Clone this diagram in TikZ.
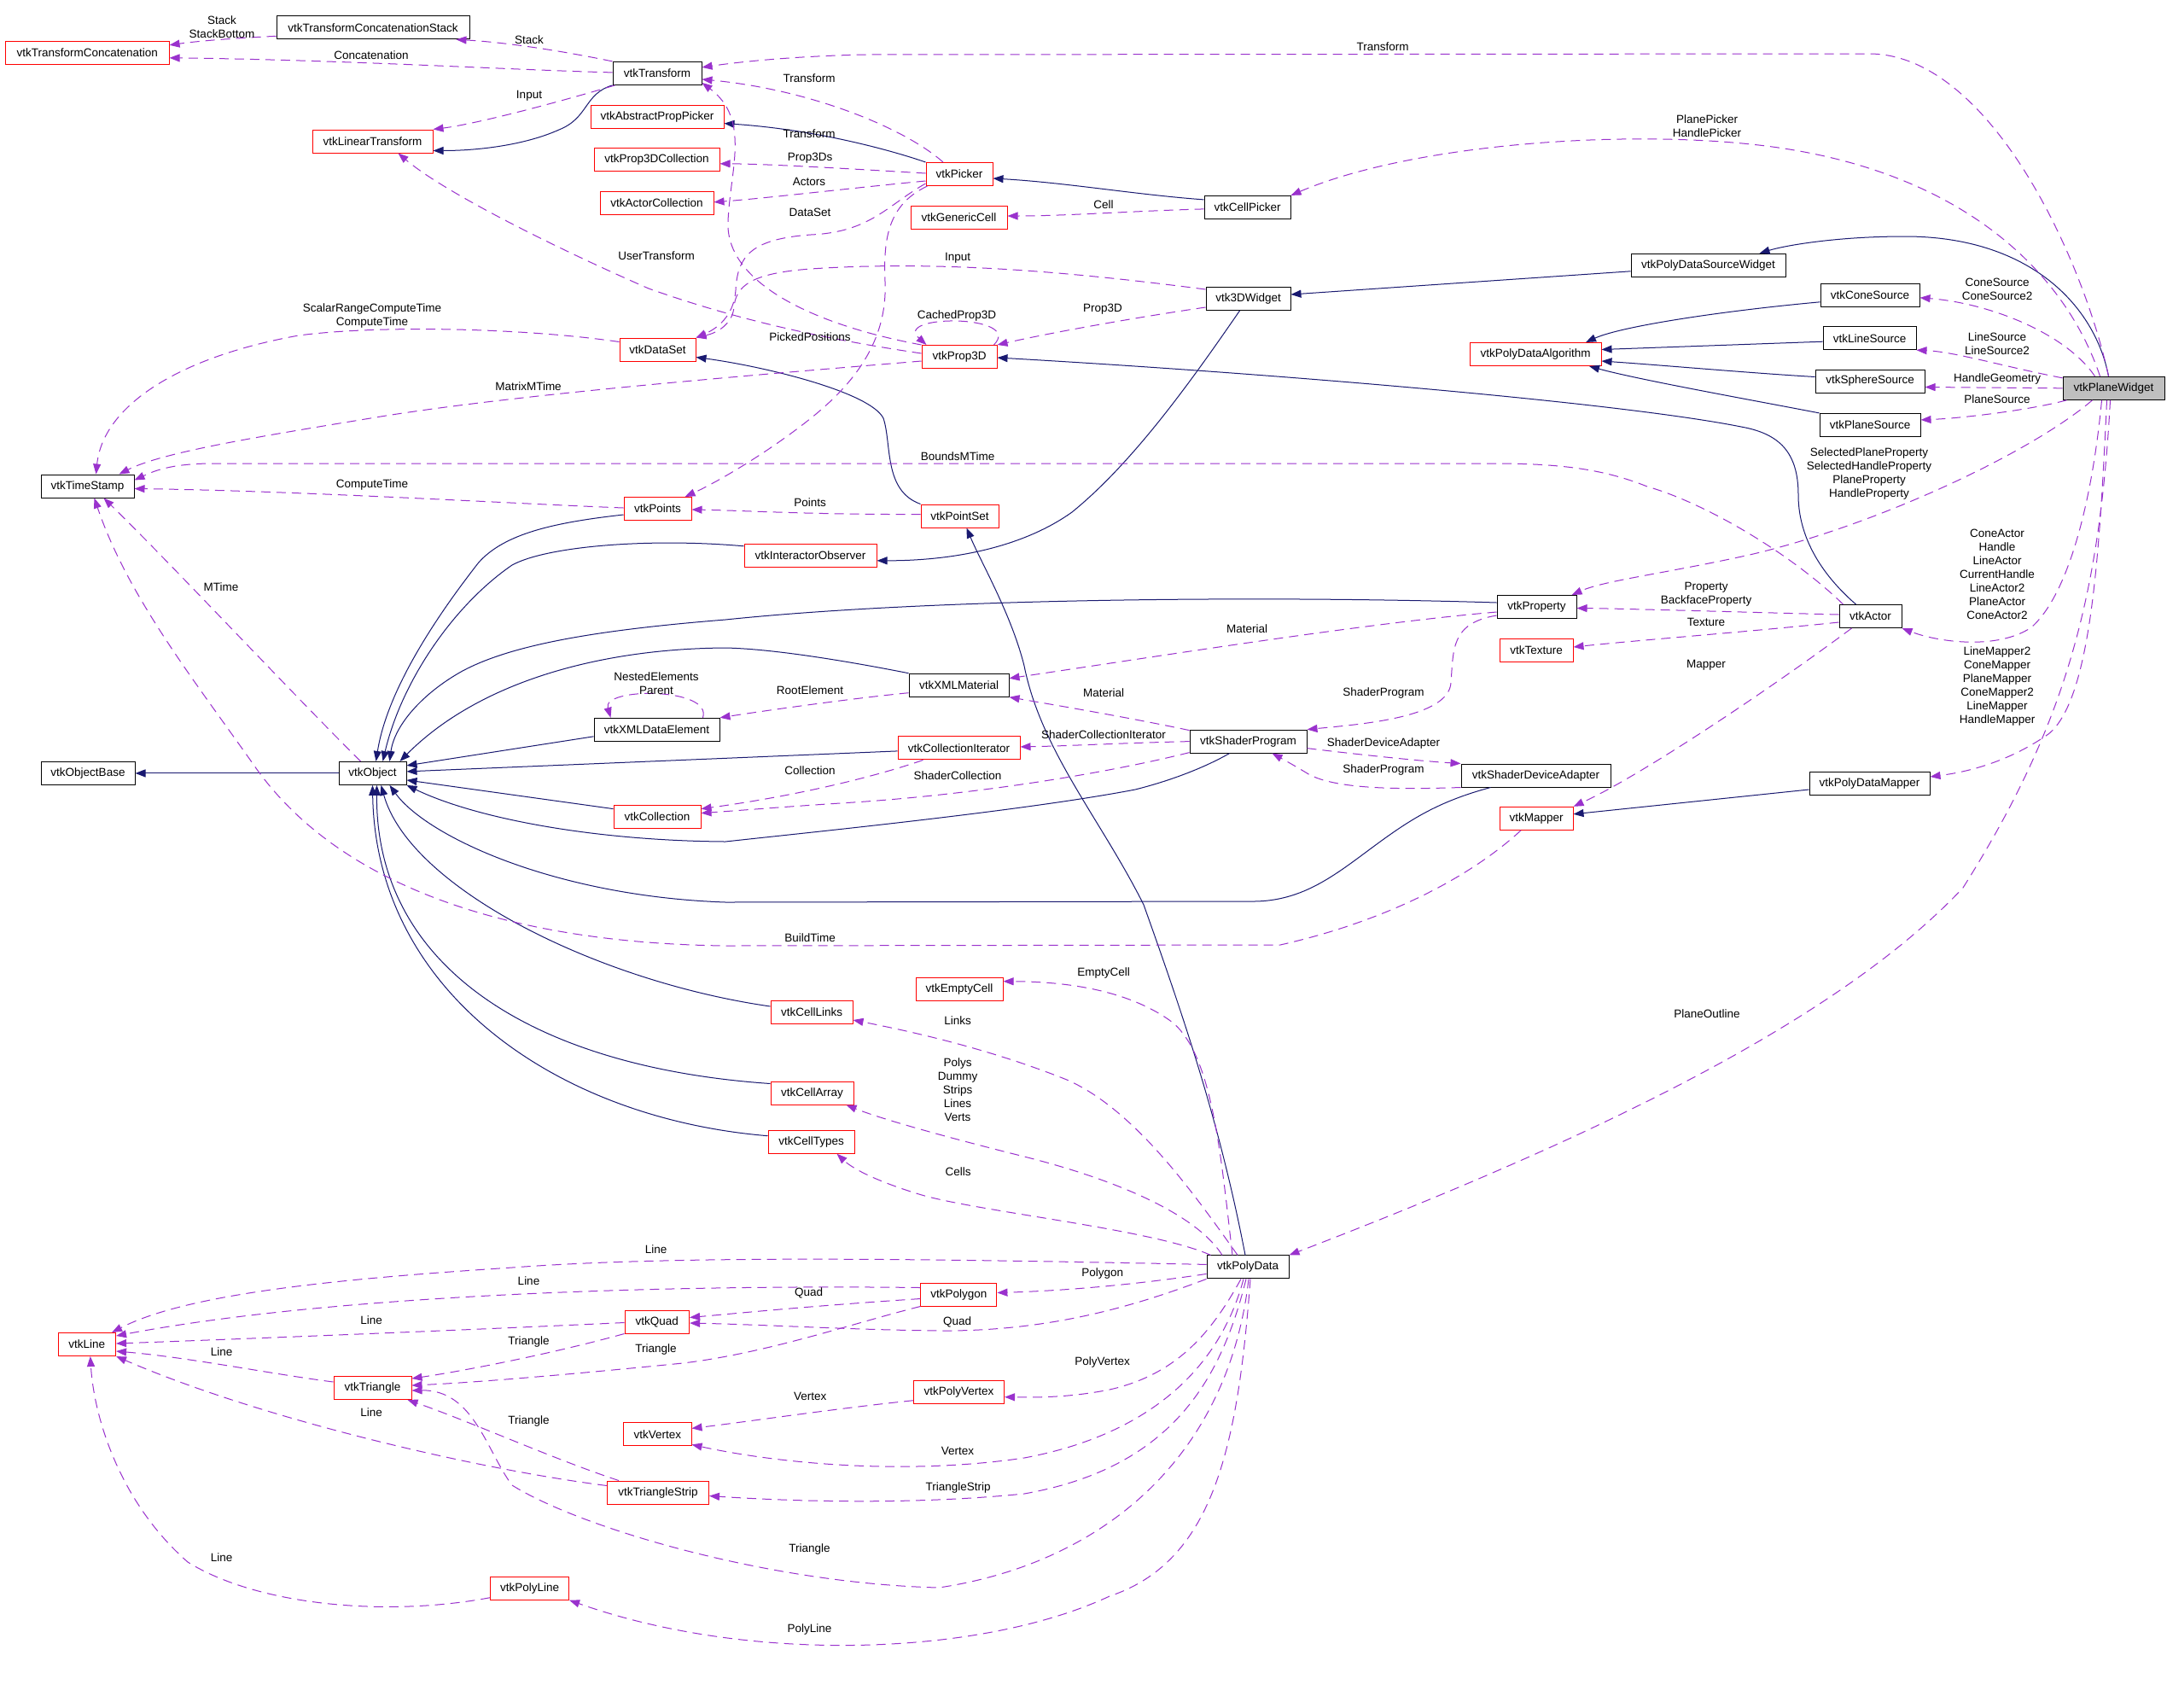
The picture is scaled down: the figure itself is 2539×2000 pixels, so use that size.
\documentclass[tikz,border=0pt]{standalone}
\usepackage{fontspec}
\setmainfont{Liberation Sans}
\usetikzlibrary{arrows.meta,calc}
\definecolor{usec}{HTML}{9A32CD}
\definecolor{inhc}{HTML}{191970}
\definecolor{boxred}{HTML}{FF0000}
\definecolor{pwgray}{HTML}{BFBFBF}
\newcommand{\dfs}{\fontsize{13.5}{16}\selectfont}
\tikzset{
  box/.style={rectangle, inner sep=0pt, minimum height=27pt, font=\dfs, text=black, line width=1pt},
  rbox/.style={box, draw=boxred},
  bbox/.style={box, draw=black},
  gbox/.style={box, draw=black, fill=pwgray},
  inh/.style={draw=inhc, line width=1pt, -{Triangle[length=12pt,width=9pt]}},
  use/.style={draw=usec, line width=1pt, dash pattern=on 11pt off 7pt, -{Triangle[length=12pt,width=9pt]}},
  lbl/.style={font=\dfs, align=center, inner sep=0pt, text=black},
}
\begin{document}
\begin{tikzpicture}[x=1pt,y=-1pt]
\fill[white] (0,0) rectangle (2539,2000);
\useasboundingbox (0,0) rectangle (2539,2000);

% nodes
\node[bbox, minimum width=226pt] (tcs) at (437,32.3) {vtkTransformConcatenationStack};
\node[rbox, minimum width=191.5pt] (tc) at (102.3,61.8) {vtkTransformConcatenation};
\node[bbox, minimum width=104pt] (transform) at (770,85.9) {vtkTransform};
\node[rbox, minimum width=156pt] (app) at (770,136.6) {vtkAbstractPropPicker};
\node[rbox, minimum width=141pt] (lt) at (436.5,165.5) {vtkLinearTransform};
\node[rbox, minimum width=147pt] (p3dc) at (769.5,186.8) {vtkProp3DCollection};
\node[rbox, minimum width=133pt] (actcoll) at (769.5,237.8) {vtkActorCollection};
\node[rbox, minimum width=89pt] (dataset) at (770.5,409.5) {vtkDataSet};
\node[bbox, minimum width=109pt] (timestamp) at (102.5,569.5) {vtkTimeStamp};
\node[rbox, minimum width=79pt] (points) at (770.5,596) {vtkPoints};
\node[rbox, minimum width=78pt] (picker) at (1124,204) {vtkPicker};
\node[rbox, minimum width=113pt] (gencell) at (1123.5,255) {vtkGenericCell};
\node[bbox, minimum width=101pt] (cellpicker) at (1461.5,242.9) {vtkCellPicker};
\node[bbox, minimum width=99pt] (w3d) at (1462.5,350) {vtk3DWidget};
\node[rbox, minimum width=88pt] (prop3d) at (1124,418) {vtkProp3D};
\node[rbox, minimum width=91pt] (pointset) at (1124.5,604.5) {vtkPointSet};
\node[rbox, minimum width=155pt] (iobs) at (949.5,650.8) {vtkInteractorObserver};
\node[bbox, minimum width=181pt] (pdsw) at (2001.5,310.8) {vtkPolyDataSourceWidget};
\node[bbox, minimum width=116pt] (cone) at (2191,345.8) {vtkConeSource};
\node[bbox, minimum width=109pt] (linesrc) at (2190.5,396.2) {vtkLineSource};
\node[bbox, minimum width=128pt] (sphere) at (2191,446.5) {vtkSphereSource};
\node[bbox, minimum width=118pt] (planesrc) at (2191,497.9) {vtkPlaneSource};
\node[rbox, minimum width=154pt] (pda) at (1799,415) {vtkPolyDataAlgorithm};
\node[gbox, minimum width=119pt] (planewidget) at (2476.5,454.8) {vtkPlaneWidget};
\node[bbox, minimum width=110pt] (objbase) at (103,905.9) {vtkObjectBase};
\node[bbox, minimum width=79pt] (object) at (436.5,905.9) {vtkObject};
\node[bbox, minimum width=147pt] (xde) at (769.5,854.8) {vtkXMLDataElement};
\node[rbox, minimum width=102pt] (collection) at (770,956.6) {vtkCollection};
\node[bbox, minimum width=117pt] (xmlmat) at (1123.5,802.7) {vtkXMLMaterial};
\node[rbox, minimum width=143pt] (colliter) at (1123.5,876.4) {vtkCollectionIterator};
\node[bbox, minimum width=137pt] (shaderprog) at (1462.5,868.6) {vtkShaderProgram};
\node[rbox, minimum width=102pt] (emptycell) at (1124,1158.7) {vtkEmptyCell};
\node[rbox, minimum width=96pt] (celllinks) at (951,1186) {vtkCellLinks};
\node[rbox, minimum width=97pt] (cellarray) at (951.5,1280.5) {vtkCellArray};
\node[rbox, minimum width=101pt] (celltypes) at (950.5,1337.7) {vtkCellTypes};
\node[bbox, minimum width=93pt] (property) at (1800.5,711) {vtkProperty};
\node[rbox, minimum width=86pt] (texture) at (1800,762) {vtkTexture};
\node[bbox, minimum width=73pt] (actor) at (2191.5,722) {vtkActor};
\node[bbox, minimum width=175pt] (sda) at (1799.5,908.5) {vtkShaderDeviceAdapter};
\node[rbox, minimum width=86pt] (mapper) at (1800,958.8) {vtkMapper};
\node[bbox, minimum width=141pt] (pdmapper) at (2190.5,918) {vtkPolyDataMapper};
\node[rbox, minimum width=67.5pt] (line) at (101.8,1575) {vtkLine};
\node[rbox, minimum width=75.6pt] (quad) at (769.8,1548.5) {vtkQuad};
\node[rbox, minimum width=91pt] (triangle) at (436.5,1626) {vtkTriangle};
\node[rbox, minimum width=79.4pt] (vertex) at (770.3,1680.4) {vtkVertex};
\node[rbox, minimum width=119pt] (tristrip) at (771,1748.5) {vtkTriangleStrip};
\node[rbox, minimum width=92pt] (polyline) at (620.6,1860.7) {vtkPolyLine};
\node[bbox, minimum width=96pt] (polydata) at (1462,1484.4) {vtkPolyData};
\node[rbox, minimum width=89pt] (polygon) at (1123.4,1516.5) {vtkPolygon};
\node[rbox, minimum width=106pt] (polyvertex) at (1123.5,1630.7) {vtkPolyVertex};

% inheritance
\draw[inh] (transform.south west) .. controls (684,110) and (690,138) .. (655,152) .. controls (615,170) and (560,176.5) .. ($(lt.east)+(0,11)$);
\draw[inh] (picker.north west) .. controls (1050,178) and (960,152) .. ($(app.east)+(0,8)$);
\draw[inh] ($(cellpicker.west)+(0,-9)$) .. controls (1330,228) and (1250,214) .. ($(picker.east)+(0,5)$);
\draw[inh] ($(pdsw.west)+(0,7)$) -- ($(w3d.east)+(0,-5)$);
\draw[inh] ($(planewidget.north)+(-6,0)$) .. controls (2455,360) and (2380,277) .. (2232,277) .. controls (2150,277) and (2090,288) .. ($(pdsw.north)+(60,0)$);
\draw[inh] ($(cone.west)+(0,8)$) .. controls (2020,364) and (1900,382) .. ($(pda.north)+(59,0)$);
\draw[inh] ($(linesrc.west)+(0,4)$) -- ($(pda.east)+(0,-5.5)$);
\draw[inh] ($(sphere.west)+(0,-5)$) .. controls (2050,437) and (1950,428) .. ($(pda.east)+(0,8)$);
\draw[inh] (planesrc.north west) .. controls (2060,470) and (1920,445) .. ($(pda.south)+(63,0)$);
\draw[inh] ($(actor.north)+(-17,0)$) .. controls (2125,665) and (2107,620) .. (2107,580) .. controls (2107,530) and (2085,508) .. (2040,500) .. controls (1900,472) and (1500,438) .. ($(prop3d.east)+(0,1)$);
\draw[inh] ($(w3d.south)+(-10,0)$) .. controls (1400,440) and (1330,540) .. (1256,600) .. controls (1200,640) and (1120,657) .. ($(iobs.east)+(0,6)$);
\draw[inh] (pointset.north west) .. controls (1035,575) and (1045,520) .. (1035,490) .. controls (1020,460) and (900,430) .. ($(dataset.east)+(0,9)$);
\draw[inh] ($(polydata.north)+(-3,0)$) .. controls (1430,1320) and (1390,1200) .. (1340,1060) .. controls (1290,960) and (1220,880) .. (1200,780) .. controls (1185,720) and (1150,660) .. ($(pointset.south)+(8,0)$);
\draw[inh] ($(pdmapper.west)+(0,7)$) -- ($(mapper.east)+(0,-5)$);
\draw[inh] (object.west) -- (objbase.east);
\draw[inh] ($(points.west)+(0,7)$) .. controls (650,612) and (590,625) .. (560,660) .. controls (525,705) and (455,800) .. ($(object.north)+(4,0)$);
\draw[inh] ($(iobs.west)+(0,-11)$) .. controls (760,630) and (640,640) .. (600,662) .. controls (530,710) and (470,800) .. ($(object.north)+(12,0)$);
\draw[inh] ($(property.west)+(0,-5)$) .. controls (1500,698) and (1100,700) .. (850,726) .. controls (700,738) and (600,755) .. (542,786) .. controls (495,812) and (462,850) .. ($(object.north)+(20,0)$);
\draw[inh] (xmlmat.north west) .. controls (980,772) and (900,760) .. (850,759) .. controls (700,760) and (560,800) .. ($(object.north east)+(-8,0)$);
\draw[inh] ($(xde.west)+(0,8)$) -- ($(object.east)+(0,-9)$);
\draw[inh] ($(colliter.west)+(0,3.5)$) -- ($(object.east)+(0,-2)$);
\draw[inh] ($(collection.west)+(0,-9)$) -- ($(object.east)+(0,8)$);
\draw[inh] ($(shaderprog.south)+(-22,0)$) .. controls (1410,900) and (1370,915) .. (1330,925) .. controls (1200,950) and (950,975) .. (850,986) .. controls (700,985) and (560,960) .. (object.south east);
\draw[inh] ($(sda.south)+(-53,0)$) .. controls (1700,935) and (1670,950) .. (1640,970) .. controls (1580,1010) and (1540,1055) .. (1470,1056) -- (850,1057) .. controls (650,1050) and (500,980) .. ($(object.south)+(20,0)$);
\draw[inh] ($(celllinks.west)+(0,-7)$) .. controls (700,1150) and (480,1040) .. ($(object.south)+(10,0)$);
\draw[inh] ($(cellarray.west)+(0,-11)$) .. controls (620,1250) and (440,1130) .. ($(object.south)+(5,0)$);
\draw[inh] ($(celltypes.west)+(0,-7)$) .. controls (650,1310) and (440,1160) .. (object.south);

% usage
\draw[use] ($(planewidget.north)+(-6,0)$) .. controls (2440,300) and (2330,63) .. (2190,63) -- (1012,64) .. controls (930,66) and (870,72) .. ($(transform.east)+(0,-7)$);
\draw[use] ($(planewidget.north)+(-16,0)$) .. controls (2420,320) and (2300,200) .. (2069,171) .. controls (1900,150) and (1650,170) .. (cellpicker.north east);
\draw[use] ($(planewidget.north)+(-22,0)$) .. controls (2420,390) and (2330,355) .. ($(cone.east)+(0,3)$);
\draw[use] ($(planewidget.north west)+(0,2)$) .. controls (2350,430) and (2290,412) .. (linesrc.south east);
\draw[use] (planewidget.west) -- ($(sphere.east)+(0,7)$);
\draw[use] ($(planewidget.south west)+(5,0)$) .. controls (2380,480) and (2300,490) .. ($(planesrc.east)+(0,-6)$);
\draw[use] ($(planewidget.south)+(-25,0)$) .. controls (2380,530) and (2200,615) .. (2050,650) .. controls (1950,672) and (1880,680) .. ($(property.north east)+(-6,0)$);
\draw[use] ($(planewidget.south)+(-14,0)$) .. controls (2450,600) and (2420,700) .. (2380,735) .. controls (2340,762) and (2270,752) .. (actor.south east);
\draw[use] ($(planewidget.south)+(-8,0)$) .. controls (2460,650) and (2450,820) .. (2400,860) .. controls (2350,895) and (2300,905) .. ($(pdmapper.east)+(0,-8)$);
\draw[use] ($(planewidget.south)+(-4,0)$) .. controls (2460,700) and (2420,850) .. (2300,1040) .. controls (2150,1200) and (1850,1340) .. (polydata.north east);
\draw[use] (transform.north west) .. controls (670,62) and (600,50) .. ($(tcs.south east)+(-16,0)$);
\draw[use] ($(transform.west)+(0,-1)$) .. controls (600,82) and (400,70) .. ($(tc.east)+(0,6)$);
\draw[use] ($(transform.south west)+(3,0)$) .. controls (660,118) and (560,145) .. (lt.north east);
\draw[use] ($(tcs.west)+(0,10)$) .. controls (290,44) and (240,47) .. ($(tc.east)+(0,-9)$);
\draw[use] ($(picker.north)+(-19,0)$) .. controls (1060,150) and (950,105) .. ($(transform.east)+(0,7)$);
\draw[use] (prop3d.north west) .. controls (950,380) and (850,330) .. (853,260) .. controls (855,200) and (880,140) .. ($(transform.south east)+(0,-3)$);
\draw[use] ($(prop3d.north east)+(-4,0)$) .. controls (1200,368) and (1045,368) .. ($(prop3d.north west)+(6,0)$);
\draw[use] ($(picker.west)+(0,-1)$) .. controls (1000,198) and (900,192) .. ($(p3dc.east)+(0,5)$);
\draw[use] ($(picker.west)+(0,8)$) .. controls (1000,220) and (900,232) .. ($(actcoll.east)+(0,-1)$);
\draw[use] ($(picker.west)+(0,11)$) .. controls (1040,240) and (1020,272) .. (950,275) .. controls (880,280) and (864,300) .. (862,340) .. controls (860,370) and (840,385) .. (dataset.north east);
\draw[use] ($(w3d.west)+(0,-11)$) .. controls (1250,318) and (1100,305) .. (950,315) .. controls (880,320) and (862,335) .. (860,360) .. controls (858,380) and (840,390) .. (dataset.north east);
\draw[use] ($(w3d.west)+(0,10)$) .. controls (1330,372) and (1230,390) .. (prop3d.north east);
\draw[use] ($(prop3d.west)+(0,-4)$) .. controls (950,395) and (850,370) .. (760,338) .. controls (650,290) and (520,225) .. ($(lt.south)+(30,0)$);
\draw[use] ($(prop3d.west)+(0,5)$) .. controls (900,438) and (600,462) .. (434,490) .. controls (300,512) and (190,530) .. ($(timestamp.north)+(37,0)$);
\draw[use] ($(dataset.west)+(0,-9)$) .. controls (620,385) and (450,380) .. (350,393) .. controls (200,420) and (120,480) .. ($(timestamp.north)+(10,0)$);
\draw[use] ($(actor.north west)+(5,0)$) .. controls (2100,650) and (2000,590) .. (1930,570) .. controls (1880,550) and (1830,543) .. (1750,543) -- (250,543) .. controls (200,543) and (180,552) .. ($(timestamp.east)+(0,-7)$);
\draw[use] ($(points.west)+(0,-1)$) .. controls (600,590) and (350,575) .. ($(timestamp.east)+(0,3)$);
\draw[use] ($(object.north west)+(26,0)$) .. controls (340,810) and (200,660) .. ($(timestamp.south)+(19,0)$);
\draw[use] ($(mapper.south)+(-18,0)$) .. controls (1720,1030) and (1620,1080) .. (1500,1107) -- (850,1108) .. controls (600,1105) and (400,1040) .. (300,900) .. controls (230,800) and (150,700) .. ($(timestamp.south)+(8,0)$);
\draw[use] ($(pointset.west)+(0,-2)$) .. controls (950,603) and (870,598) .. ($(points.east)+(0,1)$);
\draw[use] ($(picker.south west)+(2,0)$) .. controls (1040,240) and (1035,280) .. (1037,330) .. controls (1040,400) and (1000,450) .. (950,490) .. controls (900,530) and (840,565) .. ($(points.north east)+(-8,0)$);
\draw[use] ($(cellpicker.west)+(0,2)$) .. controls (1330,247) and (1250,253) .. ($(gencell.east)+(0,-2)$);
\draw[use] ($(actor.west)+(0,-2)$) .. controls (2000,716) and (1900,713) .. ($(property.east)+(0,1.5)$);
\draw[use] ($(actor.west)+(0,7)$) .. controls (2050,740) and (1920,750) .. ($(texture.east)+(0,-4)$);
\draw[use] ($(actor.south west)+(15,0)$) .. controls (2070,810) and (1920,910) .. (mapper.north east);
\draw[use] ($(property.west)+(0,6)$) .. controls (1600,730) and (1350,770) .. ($(xmlmat.east)+(0,-8)$);
\draw[use] ($(property.south west)+(0,-4)$) .. controls (1700,730) and (1703,760) .. (1700,800) .. controls (1697,840) and (1600,848) .. (shaderprog.north east);
\draw[use] ($(shaderprog.north west)+(0,1)$) .. controls (1320,840) and (1230,825) .. (xmlmat.south east);
\draw[use] (shaderprog.west) .. controls (1300,871) and (1250,874) .. ($(colliter.east)+(0,-1.5)$);
\draw[use] ($(shaderprog.south west)+(0,-1)$) .. controls (1300,905) and (1150,930) .. (1000,940) .. controls (920,945) and (860,950) .. ($(collection.east)+(0,-4)$);
\draw[use] ($(shaderprog.east)+(0,8)$) .. controls (1600,885) and (1670,892) .. (sda.north west);
\draw[use] (sda.south west) .. controls (1640,925) and (1560,925) .. (1530,905) .. controls (1510,893) and (1495,885) .. ($(shaderprog.south)+(28,0)$);
\draw[use] ($(colliter.south west)+(30,0)$) .. controls (1040,905) and (950,930) .. ($(collection.east)+(0,-9)$);
\draw[use] ($(xmlmat.west)+(0,9)$) .. controls (1000,818) and (900,832) .. (xde.north east);
\draw[use] ($(xde.north)+(54,0)$) .. controls (835,805) and (705,805) .. ($(xde.north)+(-54,0)$);
\draw[use] ($(polydata.north)+(-18,0)$) .. controls (1430,1350) and (1420,1230) .. (1370,1195) .. controls (1320,1160) and (1250,1150) .. ($(emptycell.east)+(0,-9)$);
\draw[use] ($(polydata.north)+(-12,0)$) .. controls (1400,1400) and (1330,1300) .. (1250,1265) .. controls (1150,1225) and (1050,1205) .. ($(celllinks.east)+(0,9)$);
\draw[use] ($(polydata.north)+(-30,0)$) .. controls (1400,1420) and (1300,1380) .. (1200,1355) .. controls (1100,1330) and (1030,1310) .. ($(cellarray.south east)+(-9,0)$);
\draw[use] ($(polydata.north west)+(5,0)$) .. controls (1350,1440) and (1150,1420) .. (1080,1400) .. controls (1030,1385) and (1000,1370) .. ($(celltypes.south east)+(-21,0)$);
\draw[use] ($(polydata.west)+(0,-3)$) .. controls (1100,1475) and (800,1470) .. (600,1485) .. controls (400,1498) and (220,1515) .. ($(line.north east)+(-5,0)$);
\draw[use] ($(polydata.west)+(0,8)$) .. controls (1330,1505) and (1250,1512) .. ($(polygon.east)+(0,-2)$);
\draw[use] (polydata.south west) .. controls (1330,1530) and (1230,1560) .. (1100,1559) .. controls (1000,1558) and (900,1552) .. ($(quad.east)+(0,1.5)$);
\draw[use] ($(polydata.south)+(-8,0)$) .. controls (1420,1560) and (1380,1610) .. (1300,1628) .. controls (1250,1638) and (1210,1637) .. ($(polyvertex.east)+(0,6)$);
\draw[use] ($(polydata.south)+(-5,0)$) .. controls (1430,1600) and (1350,1680) .. (1200,1708) .. controls (1050,1730) and (900,1712) .. ($(vertex.east)+(0,12)$);
\draw[use] ($(polydata.south)+(-2,0)$) .. controls (1430,1620) and (1370,1720) .. (1200,1750) .. controls (1050,1765) and (900,1757) .. ($(tristrip.east)+(0,4)$);
\draw[use] ($(polydata.south)+(1,0)$) .. controls (1440,1700) and (1300,1830) .. (1100,1860) .. controls (900,1855) and (680,1790) .. (600,1740) .. controls (570,1700) and (555,1628) .. ($(triangle.east)+(0,3)$);
\draw[use] ($(polydata.south)+(3,0)$) .. controls (1450,1700) and (1420,1830) .. (1300,1870) .. controls (1150,1940) and (880,1950) .. (polyline.south east);
\draw[use] ($(polygon.west)+(0,-8)$) .. controls (800,1505) and (400,1515) .. ($(line.east)+(0,-10)$);
\draw[use] ($(polygon.west)+(0,5)$) .. controls (950,1530) and (870,1538) .. ($(quad.east)+(0,-5)$);
\draw[use] (polygon.south west) .. controls (1000,1550) and (900,1585) .. (800,1597) .. controls (650,1612) and (550,1620) .. ($(triangle.east)+(0,-3)$);
\draw[use] ($(quad.west)+(0,1)$) .. controls (550,1558) and (300,1568) .. ($(line.east)+(0,-1)$);
\draw[use] (quad.south west) .. controls (650,1585) and (550,1605) .. ($(triangle.east)+(0,-11)$);
\draw[use] ($(triangle.west)+(0,-7)$) .. controls (320,1610) and (220,1590) .. ($(line.east)+(0,8)$);
\draw[use] ($(tristrip.west)+(0,-8)$) .. controls (550,1720) and (300,1660) .. (line.south east);
\draw[use] ($(tristrip.north west)+(14,0)$) .. controls (650,1710) and (550,1665) .. ($(triangle.south east)+(-5,0)$);
\draw[use] ($(polyvertex.west)+(0,10)$) .. controls (980,1650) and (880,1665) .. ($(vertex.east)+(0,-7)$);
\draw[use] ($(polyline.west)+(0,11)$) .. controls (450,1895) and (300,1880) .. (220,1830) .. controls (140,1760) and (110,1660) .. ($(line.south)+(4,0)$);

% labels
\node[lbl] (l01) at (260,31.8) {Stack\\StackBottom};
\node[lbl] (l02) at (620,47) {Stack};
\node[lbl] (l03) at (435,64.6) {Concatenation};
\node[lbl] (l04) at (620,112) {Input};
\node[lbl] (l05) at (1620,54.6) {Transform};
\node[lbl] (l06) at (948,91.5) {Transform};
\node[lbl] (l07) at (948,156.5) {Transform};
\node[lbl] (l08) at (949,184.7) {Prop3Ds};
\node[lbl] (l09) at (948,212.5) {Actors};
\node[lbl] (l10) at (949,248.5) {DataSet};
\node[lbl] (l11) at (2000,147.6) {PlanePicker\\HandlePicker};
\node[lbl] (l12) at (1293,239.4) {Cell};
\node[lbl] (l13) at (1122,302.7) {Input};
\node[lbl] (l14) at (769,300) {UserTransform};
\node[lbl] (l15) at (436,370.5) {ScalarRangeComputeTime\\ComputeTime};
\node[lbl] (l16) at (1292,362.5) {Prop3D};
\node[lbl] (l17) at (1121,369.6) {CachedProp3D};
\node[lbl] (l18) at (949,394.6) {PickedPositions};
\node[lbl] (l19) at (2340,338.4) {ConeSource\\ConeSource2};
\node[lbl] (l20) at (2340,402.6) {LineSource\\LineSource2};
\node[lbl] (l21) at (2340,444.5) {HandleGeometry};
\node[lbl] (l22) at (2340,467.5) {PlaneSource};
\node[lbl] (l23) at (619,452.7) {MatrixMTime};
\node[lbl] (l24) at (1122,534.7) {BoundsMTime};
\node[lbl] (l25) at (436,567.6) {ComputeTime};
\node[lbl] (l26) at (949,588.5) {Points};
\node[lbl] (l27) at (2190,554.8) {SelectedPlaneProperty\\SelectedHandleProperty\\PlaneProperty\\HandleProperty};
\node[lbl] (l28) at (259,687.8) {MTime};
\node[lbl] (l29) at (2340,672.6) {ConeActor\\Handle\\LineActor\\CurrentHandle\\LineActor2\\PlaneActor\\ConeActor2};
\node[lbl] (l30) at (1999,695.8) {Property\\BackfaceProperty};
\node[lbl] (l31) at (1999,728.5) {Texture};
\node[lbl] (l32) at (1999,779.7) {Mapper};
\node[lbl] (l33) at (1461,736.8) {Material};
\node[lbl] (l34) at (2340,803.8) {LineMapper2\\ConeMapper\\PlaneMapper\\ConeMapper2\\LineMapper\\HandleMapper};
\node[lbl] (l35) at (769,800.7) {NestedElements\\Parent};
\node[lbl] (l36) at (949,808.7) {RootElement};
\node[lbl] (l37) at (1293,811.8) {Material};
\node[lbl] (l38) at (1621,811.8) {ShaderProgram};
\node[lbl] (l39) at (1293,860.3) {ShaderCollectionIterator};
\node[lbl] (l40) at (1621,870.8) {ShaderDeviceAdapter};
\node[lbl] (l41) at (949,902.4) {Collection};
\node[lbl] (l42) at (1122,908.5) {ShaderCollection};
\node[lbl] (l43) at (1621,902.4) {ShaderProgram};
\node[lbl] (l44) at (949,1098.4) {BuildTime};
\node[lbl] (l45) at (1293,1139.6) {EmptyCell};
\node[lbl] (l46) at (1122,1195.6) {Links};
\node[lbl] (l47) at (1122,1276.7) {Polys\\Dummy\\Strips\\Lines\\Verts};
\node[lbl] (l48) at (2000,1187.8) {PlaneOutline};
\node[lbl] (l49) at (1122.6,1372.5) {Cells};
\node[lbl] (l50) at (768.6,1463.5) {Line};
\node[lbl] (l51) at (1291.7,1492.2) {Polygon};
\node[lbl] (l52) at (619.5,1500.8) {Line};
\node[lbl] (l53) at (947.6,1514.7) {Quad};
\node[lbl] (l54) at (435.2,1546.8) {Line};
\node[lbl] (l55) at (1121.5,1548.5) {Quad};
\node[lbl] (l56) at (619.5,1571.5) {Triangle};
\node[lbl] (l57) at (768.6,1580.6) {Triangle};
\node[lbl] (l58) at (259.6,1583.7) {Line};
\node[lbl] (l59) at (1291.7,1595.8) {PolyVertex};
\node[lbl] (l60) at (949.2,1635.7) {Vertex};
\node[lbl] (l61) at (435.2,1654.8) {Line};
\node[lbl] (l62) at (619.5,1664.8) {Triangle};
\node[lbl] (l63) at (1122,1699.4) {Vertex};
\node[lbl] (l64) at (1122.6,1742.8) {TriangleStrip};
\node[lbl] (l65) at (948.6,1814.8) {Triangle};
\node[lbl] (l66) at (259.6,1824.8) {Line};
\node[lbl] (l67) at (948.6,1908.5) {PolyLine};
\end{tikzpicture}
\end{document}
